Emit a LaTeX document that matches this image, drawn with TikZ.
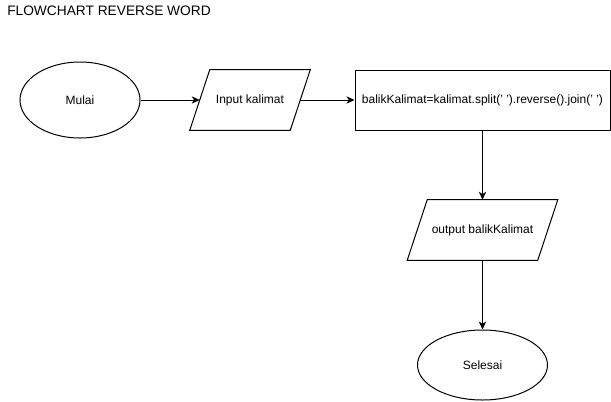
\documentclass[tikz,border=0pt]{standalone}
\usepackage{fontspec}
\setmainfont{Liberation Sans}
\usetikzlibrary{arrows.meta,calc,shapes.geometric}
\begin{document}
\begin{tikzpicture}[x=0.75pt,y=-0.75pt,
  font=\fontsize{9pt}{11pt}\selectfont,
  term/.style={draw,ellipse,line width=0.75pt,inner sep=0pt},
  iobox/.style={inner sep=0pt,minimum height=45pt},
  procbox/.style={draw,line width=0.75pt,inner sep=0pt,minimum height=45pt},
  conn/.style={line width=0.75pt,-{Stealth[length=6pt,width=5.5pt,inset=1.8pt]}},
  outline/.style={line width=0.75pt}]
\useasboundingbox (0,0) rectangle (611,401);
\node[anchor=base west,inner sep=0pt,font=\fontsize{10.3pt}{12pt}\selectfont] (title) at (7,15) {FLOWCHART REVERSE WORD};
\node[term,minimum width=90pt,minimum height=57pt] (mulai) at (80,100) {Mulai};
\node[iobox,minimum width=75pt] (input) at (250,100) {Input kalimat};
\draw[outline] ($(input.north west)+(10,0)$) -- ($(input.north east)+(10,0)$) -- ($(input.south east)+(-10,0)$) -- ($(input.south west)+(-10,0)$) -- cycle;
\node[procbox,minimum width=191.25pt] (proc) at (482.5,100) {balikKalimat=kalimat.split(' ').reverse().join(' ')};
\node[iobox,minimum width=97.5pt] (output) at (482.5,230) {output balikKalimat};
\draw[outline] ($(output.north west)+(10,0)$) -- ($(output.north east)+(10,0)$) -- ($(output.south east)+(-10,0)$) -- ($(output.south west)+(-10,0)$) -- cycle;
\node[term,minimum width=97.5pt,minimum height=52.5pt] (selesai) at (482.5,365) {Selesai};
\draw[conn] (mulai) -- (input);
\draw[conn] (input) -- (proc);
\draw[conn] (proc) -- (output);
\draw[conn] (output) -- (selesai);
\end{tikzpicture}
\end{document}
